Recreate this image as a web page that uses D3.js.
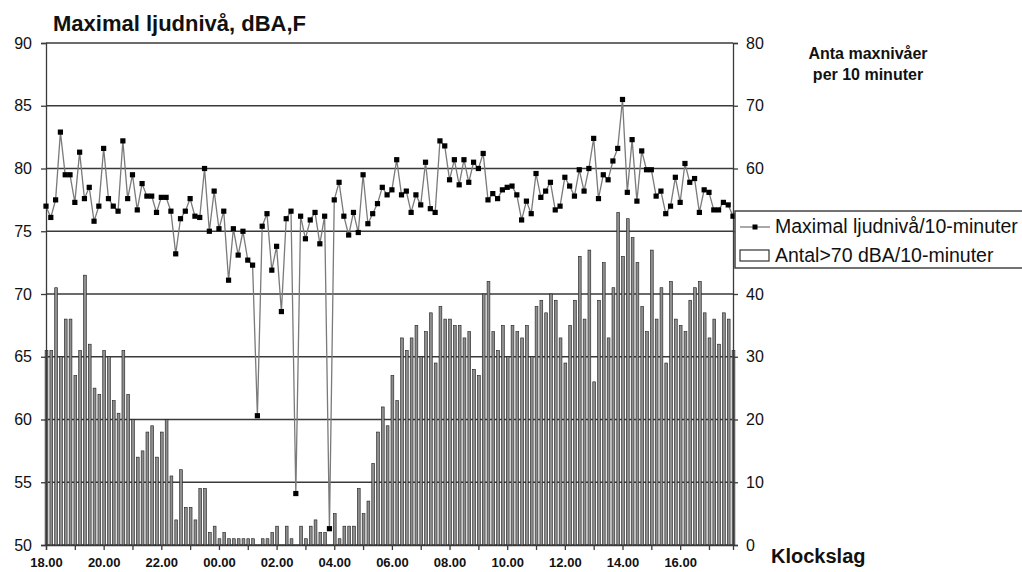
<!DOCTYPE html>
<html lang="sv">

<head>
    <meta charset="UTF-8">
    <script src="https://d3js.org/d3.v7.min.js"></script>
    <style>
        body {
            margin: 0;
            background: #fff;
        }

        text {
            font-family: "Liberation Sans", Arial, sans-serif;
            fill: #111;
        }
    </style>
    <title>Maximal ljudnivå</title>
</head>

<body>
    <div class="canvas"></div>
    <script>
        // tidpunkter, var 10:e minut från 18.00 till 17.50
        const times = []
        for (let h = 0; h < 24; h++) {
            for (let m = 0; m < 60; m += 10) {
                const hh = (18 + h) % 24
                times.push(`${String(hh).padStart(2, '0')}.${String(m).padStart(2, '0')}`)
            }
        }

        const xTickLabels = ['18.00', '20.00', '22.00', '00.00', '02.00', '04.00',
            '06.00', '08.00', '10.00', '12.00', '14.00', '16.00']
        const leftTicks = [50, 55, 60, 65, 70, 75, 80, 85, 90]
        const rightTicks = [0, 10, 20, 30, 40, 50, 60, 70, 80]

        // Maximal ljudnivå per 10 minuter (dBA,F)
        const maxLevel = [
            77.0, 76.1, 77.5, 82.9, 79.5, 79.5, 77.3, 81.3, 77.6, 78.5, 75.8, 77.0,
            81.6, 77.6, 77.0, 76.6, 82.2, 77.6, 79.5, 76.7, 78.8, 77.8, 77.8, 76.5,
            77.7, 77.7, 76.6, 73.2, 76.0, 76.6, 77.6, 76.2, 76.1, 80.0, 75.0, 78.2,
            75.2, 76.6, 71.1, 75.2, 73.1, 75.0, 72.7, 72.3, 60.3, 75.4, 76.4, 71.9,
            73.8, 68.6, 76.0, 76.6, 54.1, 76.2, 74.4, 75.9, 76.5, 74.0, 76.2, 51.3,
            77.5, 78.9, 76.2, 74.7, 76.5, 74.9, 79.5, 75.6, 76.4, 77.2, 78.5, 77.9,
            78.3, 80.7, 77.9, 78.2, 76.5, 77.9, 77.1, 80.5, 76.8, 76.5, 82.2, 81.8,
            79.1, 80.7, 78.7, 80.7, 78.9, 80.5, 80.0, 81.2, 77.5, 78.0, 77.6, 78.3,
            78.5, 78.6, 77.9, 75.9, 77.4, 76.4, 79.6, 77.7, 78.2, 78.9, 76.7, 77.0,
            79.3, 78.6, 77.8, 79.9, 78.2, 80.0, 82.4, 77.6, 79.5, 79.1, 80.6, 81.6,
            85.5, 78.1, 82.3, 77.4, 81.4, 79.9, 79.9, 77.8, 78.2, 76.4, 77.0, 79.3,
            77.3, 80.4, 78.9, 79.2, 76.5, 78.3, 78.1, 76.7, 76.7, 77.3, 77.1, 76.2
        ]

        // Antal maxnivåer > 70 dBA per 10 minuter
        const countOver70 = [
            31, 31, 41, 30, 36, 36, 27, 31, 43, 32, 25, 24,
            31, 30, 23, 21, 31, 24, 20, 14, 15, 18, 19, 14,
            18, 20, 11, 4, 12, 6, 6, 4, 9, 9, 2, 3,
            1, 2, 1, 1, 1, 1, 1, 1, 0, 1, 1, 2,
            3, 0, 3, 1, 0, 3, 1, 3, 4, 2, 2, 0,
            5, 1, 3, 3, 3, 9, 5, 7, 13, 18, 22, 19,
            27, 23, 33, 31, 33, 35, 30, 34, 37, 29, 38, 36,
            36, 35, 35, 33, 34, 28, 27, 40, 42, 34, 31, 35,
            30, 35, 34, 33, 35, 30, 38, 39, 37, 40, 39, 33,
            29, 35, 39, 46, 36, 47, 26, 39, 45, 33, 41, 53,
            46, 52, 49, 45, 38, 34, 47, 36, 41, 29, 42, 36,
            35, 34, 39, 41, 42, 37, 33, 36, 32, 37, 36, 31
        ]

        const areaWidth = 1022
        const areaHeight = 572
        const [ml, mr, mt, mb] = [46, 733, 43, 545]

        const svg = d3.select('.canvas')
            .append('svg')
            .attr('width', areaWidth)
            .attr('height', areaHeight)

        const x = d3.scaleLinear()
            .domain([0, times.length - 1])
            .range([ml, mr])

        const yL = d3.scaleLinear()
            .domain([50, 90])
            .range([mb, mt])

        const yR = d3.scaleLinear()
            .domain([0, 80])
            .range([mb, mt])

        // rutnät
        svg.append('g')
            .selectAll('line')
            .data(leftTicks)
            .enter()
            .append('line')
            .attr('x1', ml)
            .attr('x2', mr)
            .attr('y1', d => yL(d))
            .attr('y2', d => yL(d))
            .attr('stroke', '#3a3a3a')
            .attr('stroke-width', 1.3)

        // staplar
        const barW = 2.8
        svg.append('g')
            .selectAll('rect')
            .data(countOver70)
            .enter()
            .append('rect')
            .attr('x', (d, i) => x(i) - barW / 2 + 0.5)
            .attr('y', d => yR(d))
            .attr('width', barW)
            .attr('height', d => yR(0) - yR(d))
            .attr('fill', '#8e8e8e')
            .attr('stroke', '#1c1c1c')
            .attr('stroke-width', 0.6)

        // axlar
        const xAxis = d3.axisBottom(x)
            .tickValues(d3.range(0, times.length, 6))
            .tickSize(5)
            .tickFormat(i => i % 12 === 0 ? xTickLabels[i / 12] : '')

        const yAxisL = d3.axisLeft(yL)
            .tickValues(leftTicks)
            .tickSize(5)
            .tickPadding(9)

        const yAxisR = d3.axisRight(yR)
            .tickValues(rightTicks)
            .tickSize(5)
            .tickPadding(8)

        const xAxisG = svg.append('g')
            .attr('transform', `translate(0,${mb})`)
            .call(xAxis)
        const yAxisLG = svg.append('g')
            .attr('transform', `translate(${ml},0)`)
            .call(yAxisL)
        const yAxisRG = svg.append('g')
            .attr('transform', `translate(${mr},0)`)
            .call(yAxisR)

        svg.selectAll('.domain, .tick line')
            .attr('stroke', '#3a3a3a')
            .attr('stroke-width', 1.3)

        xAxisG.selectAll('text')
            .style('font-size', '13px')
            .style('font-weight', 'bold')
            .attr('dy', '1.05em')
        yAxisLG.selectAll('text').style('font-size', '16px')
        yAxisRG.selectAll('text').style('font-size', '16px')

        // linje
        const line = d3.line()
            .x((d, i) => x(i))
            .y(d => yL(d))

        svg.append('path')
            .datum(maxLevel)
            .attr('d', line)
            .attr('fill', 'none')
            .attr('stroke', '#7a7a7a')
            .attr('stroke-width', 1.3)

        svg.append('g')
            .selectAll('rect')
            .data(maxLevel)
            .enter()
            .append('rect')
            .attr('x', (d, i) => x(i) - 2.6)
            .attr('y', d => yL(d) - 2.6)
            .attr('width', 5.2)
            .attr('height', 5.2)
            .attr('fill', '#000')

        // texter
        svg.append('text')
            .attr('x', 53)
            .attr('y', 31)
            .text('Maximal ljudnivå, dBA,F')
            .style('font-size', '22px')
            .style('font-weight', 'bold')

        svg.append('text')
            .attr('x', 868)
            .attr('y', 59)
            .attr('text-anchor', 'middle')
            .text('Anta maxnivåer')
            .style('font-size', '16px')
            .style('font-weight', 'bold')

        svg.append('text')
            .attr('x', 868)
            .attr('y', 80)
            .attr('text-anchor', 'middle')
            .text('per 10 minuter')
            .style('font-size', '16px')
            .style('font-weight', 'bold')

        svg.append('text')
            .attr('x', 771)
            .attr('y', 563)
            .text('Klockslag')
            .style('font-size', '20px')
            .style('font-weight', 'bold')

        // förklaring
        const legend = svg.append('g')
        legend.append('rect')
            .attr('x', 735)
            .attr('y', 211)
            .attr('width', 300)
            .attr('height', 57)
            .attr('fill', '#fff')
            .attr('stroke', '#444')
            .attr('stroke-width', 1.5)

        legend.append('line')
            .attr('x1', 740)
            .attr('x2', 770)
            .attr('y1', 227)
            .attr('y2', 227)
            .attr('stroke', '#7a7a7a')
            .attr('stroke-width', 1.3)
        legend.append('rect')
            .attr('x', 752.5)
            .attr('y', 224.5)
            .attr('width', 5)
            .attr('height', 5)
            .attr('fill', '#000')
        legend.append('text')
            .attr('x', 775)
            .attr('y', 233)
            .text('Maximal ljudnivå/10-minuter')
            .style('font-size', '19.5px')

        legend.append('rect')
            .attr('x', 740)
            .attr('y', 250)
            .attr('width', 29)
            .attr('height', 11)
            .attr('fill', '#fff')
            .attr('stroke', '#333')
            .attr('stroke-width', 1.2)
        legend.append('text')
            .attr('x', 775)
            .attr('y', 262)
            .text('Antal>70 dBA/10-minuter')
            .style('font-size', '19.5px')
    </script>

</body>

</html>
